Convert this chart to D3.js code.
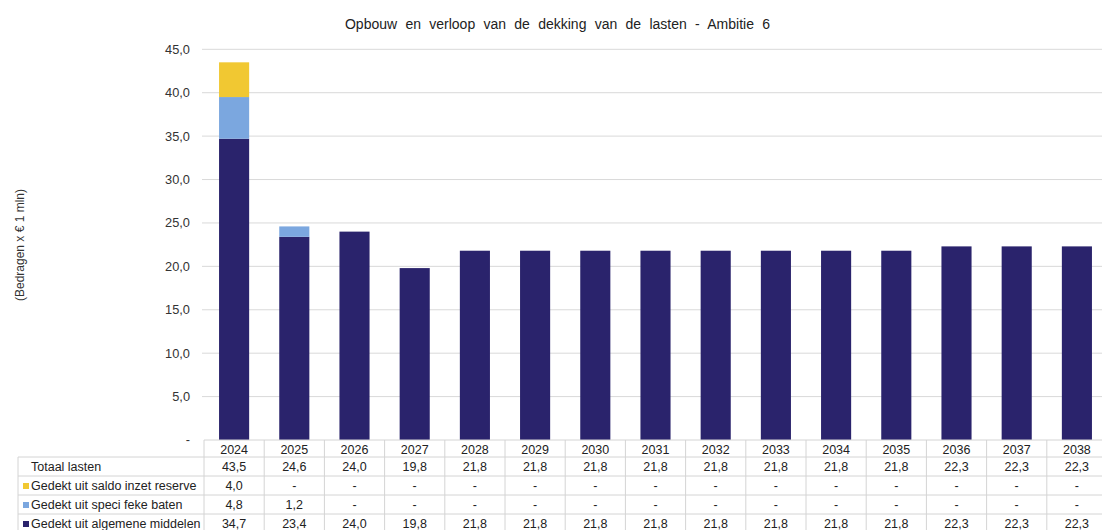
<!DOCTYPE html>
<html><head><meta charset="utf-8">
<script src="https://cdn.jsdelivr.net/npm/d3@7"></script>
<style>
html,body{margin:0;padding:0;background:#fff;}
svg{display:block;font-family:"Liberation Sans",Arial,sans-serif;}
</style></head>
<body>
<svg id="chart" width="1102" height="530"></svg>
<script>
const years = ["2024","2025","2026","2027","2028","2029","2030","2031","2032","2033","2034","2035","2036","2037","2038"];
const algemeneMiddelen = [34.7,23.4,24.0,19.8,21.8,21.8,21.8,21.8,21.8,21.8,21.8,21.8,22.3,22.3,22.3];
const specifiekeBaten  = [4.8,1.2,0,0,0,0,0,0,0,0,0,0,0,0,0];
const saldoReserve     = [4.0,0,0,0,0,0,0,0,0,0,0,0,0,0,0];
const totaalLasten     = [43.5,24.6,24.0,19.8,21.8,21.8,21.8,21.8,21.8,21.8,21.8,21.8,22.3,22.3,22.3];
const yTicks = [0,5,10,15,20,25,30,35,40,45];
const title = "Opbouw en verloop van de dekking van de lasten - Ambitie 6";
const yTitle = "(Bedragen x € 1 mln)";
const seriesLabels = ["Gedekt uit algemene middelen","Gedekt uit speci\u00a0feke baten","Gedekt uit saldo inzet reserve"];
const colors = ["#2a236c","#7ba7df","#f1c832"];

const svg = d3.select("#chart");
const plotLeft = 204, step = 60.2, plotRight = plotLeft + step*years.length;
const plotTop = 49.3, plotBottom = 440;

const x = d3.scaleBand().domain(years).range([plotLeft,plotRight]).paddingInner(0.5).paddingOuter(0.25);
const xc = d3.scaleBand().domain(years).range([plotLeft,plotRight]).padding(0);
const y = d3.scaleLinear().domain([0,45]).range([plotBottom,plotTop]);

const fmt = v => v === 0 ? "-" : d3.format(".1f")(v).replace(".", ",");
const fs = 12.5;

// gridlines
svg.append("g").selectAll("line").data(yTicks.filter(t=>t>0)).join("line")
  .attr("x1",plotLeft-2).attr("x2",1102).attr("y1",d=>y(d)).attr("y2",d=>y(d))
  .attr("stroke","#d9d9d9").attr("stroke-width",1);

// y tick labels
svg.append("g").selectAll("text").data(yTicks).join("text")
  .attr("x",190).attr("y",d=>y(d)).attr("dy","0.35em")
  .attr("text-anchor","end").attr("font-size",12.8).attr("fill","#333")
  .text(d=> d===0 ? "-" : d3.format(".1f")(d).replace(".", ","));

// stacked bars
const data = years.map((yr,i)=>({year:yr, a:algemeneMiddelen[i], s:specifiekeBaten[i], r:saldoReserve[i]}));
const stack = d3.stack().keys(["a","s","r"])(data);
svg.append("g").selectAll("g").data(stack).join("g")
  .attr("fill",(d,i)=>colors[i])
  .selectAll("rect").data(d=>d).join("rect")
  .attr("x",d=>x(d.data.year)).attr("width",x.bandwidth())
  .attr("y",d=>y(d[1])).attr("height",d=>Math.max(0,y(d[0])-y(d[1])));

// title
svg.append("text").attr("x",557.5).attr("y",29).attr("text-anchor","middle")
  .attr("font-size",14).attr("word-spacing",4.4).attr("fill","#222").text(title);

// y title
svg.append("text").attr("transform","translate(24,245) rotate(-90)")
  .attr("text-anchor","middle").attr("font-size",12).attr("fill","#333").text(yTitle);

// table
const rowH = 19;
const rowsTop = 457;
const tbl = svg.append("g");
const gridC = "#d4d4d4";
tbl.append("line").attr("x1",plotLeft).attr("x2",1102).attr("y1",plotBottom).attr("y2",plotBottom).attr("stroke",gridC);
for (let k=0;k<4;k++){
  tbl.append("line").attr("x1",18).attr("x2",1102).attr("y1",rowsTop+k*rowH).attr("y2",rowsTop+k*rowH).attr("stroke",gridC);
}
tbl.append("line").attr("x1",18).attr("x2",18).attr("y1",rowsTop).attr("y2",530).attr("stroke",gridC);
tbl.selectAll("line.v").data(years).join("line").attr("class","v")
  .attr("x1",d=>xc(d)).attr("x2",d=>xc(d)).attr("y1",plotBottom).attr("y2",530).attr("stroke",gridC);

tbl.selectAll("text.yr").data(years).join("text").attr("class","yr")
  .attr("x",d=>xc(d)+xc.bandwidth()/2).attr("y",(plotBottom+rowsTop)/2+1).attr("dy","0.36em")
  .attr("text-anchor","middle").attr("font-size",fs).attr("fill","#222").text(d=>d);

const rows = [
  {label:"Totaal lasten", vals:totaalLasten, color:null},
  {label:seriesLabels[2], vals:saldoReserve, color:colors[2]},
  {label:seriesLabels[1], vals:specifiekeBaten, color:colors[1]},
  {label:seriesLabels[0], vals:algemeneMiddelen, color:colors[0]}
];
rows.forEach((r,k)=>{
  const cy = rowsTop + k*rowH + rowH/2;
  if (r.color){
    tbl.append("rect").attr("x",23).attr("y",cy-2.5).attr("width",6).attr("height",6).attr("fill",r.color);
  }
  tbl.append("text").attr("x",31).attr("y",cy).attr("dy","0.36em").attr("font-size",fs).attr("fill","#222").text(r.label);
  tbl.append("g").selectAll("text").data(r.vals).join("text")
    .attr("x",(d,i)=>xc(years[i])+xc.bandwidth()/2).attr("y",cy).attr("dy","0.36em")
    .attr("text-anchor","middle").attr("font-size",fs).attr("fill","#222").text(d=>fmt(d));
});
</script>
</body></html>
